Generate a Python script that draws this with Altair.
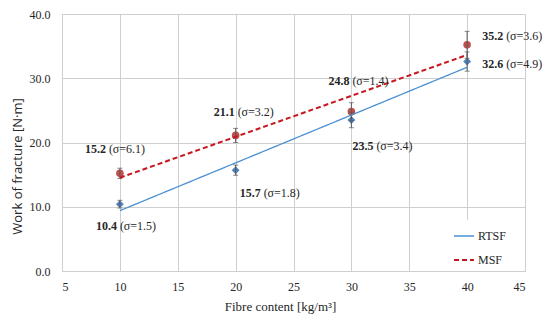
import altair as alt
import pandas as pd

# ---- data ----
fibre = [10, 20, 30, 40]
rtsf = [10.4, 15.7, 23.5, 32.6]
rtsf_sd = [1.5, 1.8, 3.4, 4.9]
rtsf_err = [0.6, 0.8, 1.2, 1.5]
msf = [15.2, 21.1, 24.8, 35.2]
msf_sd = [6.1, 3.2, 1.4, 3.6]
msf_err = [0.8, 1.1, 1.4, 2.1]
series_names = ["RTSF", "MSF"]
x_ticks = [5, 10, 15, 20, 25, 30, 35, 40, 45]
y_ticks = [0, 5, 10, 15, 20, 25, 30, 35, 40]

rows = []
for name, vals, sds, errs in [("RTSF", rtsf, rtsf_sd, rtsf_err), ("MSF", msf, msf_sd, msf_err)]:
    for i, (f, v, s, e) in enumerate(zip(fibre, vals, sds, errs)):
        rows.append({"series": name, "idx": i, "fibre": f, "value": v, "sd": s, "err": e})
df = pd.DataFrame(rows)

# ---- styling / layout ----
BLUE_M = "#4f81bd"
BLUE_L = "#4a90d2"
RED_M = "#c0504d"
RED_L = "#c8171e"
GRID = "#cfcfcf"
TXT = "#262626"
SERIF = "Liberation Serif"

# label offsets (split point dx, dy) relative to each data point, in pixels
label_offsets = {
    ("MSF", 0): (-14, -24), ("MSF", 1): (-1, -23), ("MSF", 2): (-2, -31), ("MSF", 3): (36, -9),
    ("RTSF", 0): (-3, 22), ("RTSF", 1): (25, 23), ("RTSF", 2): (22, 26), ("RTSF", 3): (36, 2),
}

xs = alt.Scale(domain=[5, 45], nice=False)
ys = alt.Scale(domain=[0, 40], nice=False)

base = alt.Chart(df)

X = alt.X("fibre:Q", scale=xs, axis=alt.Axis(
    values=x_ticks, title="Fibre content [kg/m³]", grid=True, ticks=False, tickSize=0,
    labelPadding=10, titlePadding=8, titleX=218, titleFont=SERIF, titleFontSize=13,
    titleFontWeight="normal", titleColor=TXT, labelFont=SERIF, labelFontSize=12,
    labelColor=TXT, labelOverlap=False, gridColor=GRID, domainColor=GRID))
Y = alt.Y("value:Q", scale=ys, axis=alt.Axis(
    values=y_ticks, format=".1f", title="Work of fracture [N·m]", grid=True, ticks=False,
    tickSize=0, labelPadding=12, titlePadding=5, titleY=152, titleFont="Open Sans",
    titleFontSize=13, titleFontWeight="normal", titleColor=TXT, labelFont=SERIF,
    labelFontSize=12, labelColor=TXT, labelOverlap=False, gridColor=GRID, domainColor=GRID))

color_scale = alt.Scale(domain=series_names, range=[BLUE_L, RED_L])
dash_scale = alt.Scale(domain=series_names, range=[[1, 0], [5, 3]])

trend = base.transform_regression("fibre", "value", groupby=["series"], extent=[10, 40]).mark_line().encode(
    x=alt.X("fibre:Q", scale=xs),
    y=alt.Y("value:Q", scale=ys),
    color=alt.Color("series:N", scale=color_scale, sort=series_names, title=None,
                    legend=alt.Legend(orient="none", legendX=386, legendY=206, padding=5,
                                      fillColor="white", symbolType="stroke", symbolSize=400,
                                      symbolStrokeWidth=1.6, labelFont=SERIF, labelFontSize=12,
                                      labelColor=TXT, rowPadding=7, labelOffset=3)),
    strokeDash=alt.StrokeDash("series:N", scale=dash_scale, sort=series_names, title=None),
    strokeWidth=alt.StrokeWidth("series:N", scale=alt.Scale(domain=series_names, range=[1.3, 2]), legend=None),
)

pts_r = base.transform_filter(alt.datum.series == "RTSF").mark_point(
    shape="diamond", filled=True, size=62, color=BLUE_M, opacity=1).encode(x=X, y=Y)
pts_m = base.transform_filter(alt.datum.series == "MSF").mark_point(
    shape="circle", filled=True, size=58, color=RED_M, opacity=1).encode(
    x=alt.X("fibre:Q", scale=xs), y=alt.Y("value:Q", scale=ys))

err = base.transform_calculate(lo="datum.value - datum.err", hi="datum.value + datum.err")
err_rule = err.mark_rule(color="#595959", strokeWidth=1).encode(
    x=alt.X("fibre:Q", scale=xs), y=alt.Y("lo:Q", scale=ys), y2="hi:Q")
cap_lo = err.mark_tick(color="#595959", thickness=1, size=5, orient="horizontal").encode(
    x=alt.X("fibre:Q", scale=xs), y=alt.Y("lo:Q", scale=ys))
cap_hi = err.mark_tick(color="#595959", thickness=1, size=5, orient="horizontal").encode(
    x=alt.X("fibre:Q", scale=xs), y=alt.Y("hi:Q", scale=ys))

labels = []
for (s, i), (dx, dy) in label_offsets.items():
    sub = base.transform_filter((alt.datum.series == s) & (alt.datum.idx == i))
    labels.append(sub.mark_text(align="right", baseline="middle", dx=dx, dy=dy, font=SERIF,
                                fontSize=12, fontWeight="bold", color=TXT).encode(
        x=alt.X("fibre:Q", scale=xs), y=alt.Y("value:Q", scale=ys),
        text=alt.Text("value:Q", format=".1f")))
    labels.append(sub.transform_calculate(t="'(σ=' + format(datum.sd, '.1f') + ')'").mark_text(
        align="left", baseline="middle", dx=dx + 3, dy=dy, font=SERIF, fontSize=12,
        color=TXT).encode(
        x=alt.X("fibre:Q", scale=xs), y=alt.Y("value:Q", scale=ys), text="t:N"))

r2_pos = {"MSF": (19.95, 32.1), "RTSF": (30.2, 13.05)}
r2_layers = []
for s, (px, py) in r2_pos.items():
    r2_layers.append(base.transform_regression("fibre", "value", groupby=["series"], params=True)
                     .transform_filter(alt.datum.series == s)
                     .transform_calculate(t="'R² = ' + format(datum.rSquared, '.4f')")
                     .mark_text(align="left", baseline="middle", font=SERIF, fontSize=12, color=TXT)
                     .encode(x=alt.datum(px, scale=xs), y=alt.datum(py, scale=ys), text="t:N"))

chart = alt.layer(pts_r, pts_m, err_rule, cap_lo, cap_hi, trend, *labels, *r2_layers).properties(
    width=463, height=257,
    autosize=alt.AutoSizeParams(type="none"),
    padding={"left": 54, "top": 6, "right": 17, "bottom": 50},
).configure_view(stroke=None).configure_axis(
    gridColor=GRID, domainColor=GRID, labelFont=SERIF, labelFontSize=12, labelColor=TXT,
).configure(background="white")

chart.save("out.html", embed_options={"renderer": "svg", "actions": False})
